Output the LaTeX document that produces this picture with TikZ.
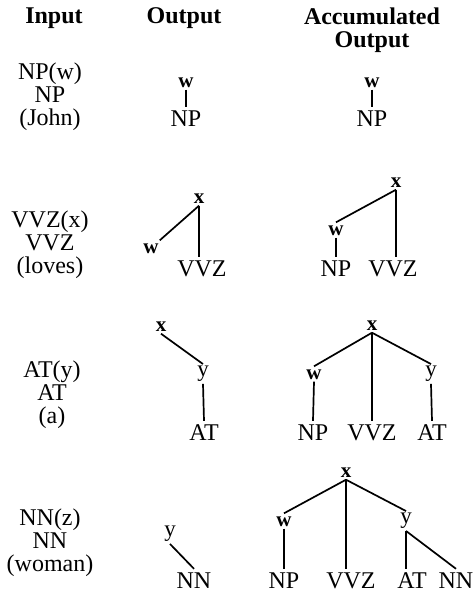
\documentclass[tikz,border=0pt]{standalone}
\usepackage{fontspec}
\setmainfont{Liberation Serif}
\begin{document}
\begin{tikzpicture}[x=1pt,y=-1pt,
  hd/.style={font=\fontsize{24}{23}\selectfont\bfseries, inner sep=1pt},
  stack/.style={font=\fontsize{24}{23}\selectfont, inner sep=1pt, align=center},
  cat/.style={font=\fontsize{24}{23}\selectfont, inner xsep=1pt, inner ysep=3pt, text height=16pt, text depth=0pt},
  var/.style={font=\fontsize{21}{22}\selectfont\bfseries, inner xsep=1pt, inner ysep=2.5pt, text height=10pt, text depth=0pt},
  vy/.style={font=\fontsize{23}{24}\selectfont, inner xsep=1pt, inner ysep=2pt, text height=10.5pt, text depth=5pt},
  br/.style={line width=1.7pt}]
\useasboundingbox (0,0) rectangle (475,595);

% column headings
\node[hd] (hin) at (54,18) {Input};
\node[hd] (hout) at (184,18) {Output};
\node[hd, align=center] (hacc) at (372,30) {Accumulated\\Output};

% ---- step 1: NP(w) ----
\node[stack] (in1) at (50,97) {NP(w)\\NP\\(John)};
\node[var] (o1w) at (186,82) {w};
\node[cat] (o1np) at (186,118) {NP};
\draw[br] (o1w.south) -- (o1np.north);
\node[var] (a1w) at (372,82) {w};
\node[cat] (a1np) at (372,118) {NP};
\draw[br] (a1w.south) -- (a1np.north);

% ---- step 2: VVZ(x) ----
\node[stack] (in2) at (50,245) {VVZ(x)\\VVZ\\(loves)};
\node[var] (o2x) at (199,198) {x};
\node[var] (o2w) at (151,248) {w};
\node[cat] (o2v) at (202,268) {VVZ};
\draw[br] (o2x.south) -- (o2x.south |- o2v.north);
\draw[br] (o2x.south) -- (o2w.north east);

\node[var] (a2x) at (396,182) {x};
\node[var] (a2w) at (336,230) {w};
\node[cat] (a2np) at (336,268) {NP};
\node[cat] (a2v) at (393,268) {VVZ};
\draw[br] (a2x.south) -- (a2x.south |- a2v.north);
\draw[br] (a2x.south) -- (a2w.north);
\draw[br] (a2w.south) -- (a2np.north);

% ---- step 3: AT(y) ----
\node[stack] (in3) at (52,395) {AT(y)\\AT\\(a)};
\node[var] (o3x) at (161,326) {x};
\node[vy] (o3y) at (203,374) {y};
\node[cat] (o3at) at (204,432) {AT};
\draw[br] (o3x.south) -- (o3y.north);
\draw[br] (o3y.south) -- (o3at.north);

\node[var] (a3x) at (372,325) {x};
\node[var] (a3w) at (314,374) {w};
\node[vy] (a3y) at (431,374) {y};
\node[cat] (a3np) at (313,432) {NP};
\node[cat] (a3v) at (372,432) {VVZ};
\node[cat] (a3at) at (432,432) {AT};
\draw[br] (a3x.south) -- (a3w.north);
\draw[br] (a3x.south) -- (a3v.north);
\draw[br] (a3x.south) -- (a3y.north);
\draw[br] (a3w.south) -- (a3np.north);
\draw[br] (a3y.south) -- (a3at.north);

% ---- step 4: NN(z) ----
\node[stack] (in4) at (50,543) {NN(z)\\NN\\(woman)};
\node[vy] (o4y) at (170,534) {y};
\node[cat] (o4nn) at (194,580) {NN};
\draw[br] (o4y.south) -- (o4nn.north);

\node[var] (a4x) at (346,472) {x};
\node[var] (a4w) at (284,521) {w};
\node[vy] (a4y) at (406,521) {y};
\node[cat] (a4np) at (284,580) {NP};
\node[cat] (a4v) at (351,580) {VVZ};
\node[cat] (a4at) at (412,580) {AT};
\node[cat] (a4nn) at (456,580) {NN};
\draw[br] (a4x.south) -- (a4w.north);
\draw[br] (a4x.south) -- (a4x.south |- a4v.north);
\draw[br] (a4x.south) -- (a4y.north);
\draw[br] (a4w.south) -- (a4np.north);
\draw[br] (a4y.south) -- (a4y.south |- a4at.north);
\draw[br] (a4y.south) -- (a4nn.north);
\end{tikzpicture}
\end{document}
